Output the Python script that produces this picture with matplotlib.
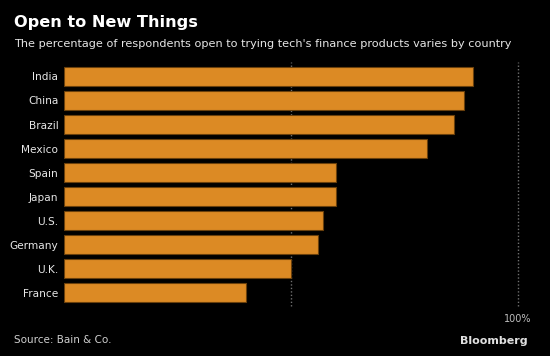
"""Open to New Things — Bloomberg-style horizontal bar chart."""

import matplotlib

matplotlib.use("Agg")
import matplotlib.pyplot as plt

countries = ["India", "China", "Brazil", "Mexico", "Spain", "Japan",
             "U.S.", "Germany", "U.K.", "France"]
pct_open = [90, 88, 86, 80, 60, 60, 57, 56, 50, 40]
grid_ticks = [50, 100]
tick_labels = ["", "100%"]

BG = "#000000"
BAR = "#dc8a24"
EDGE = "#6a400c"
TXT = "#e6e6e6"
GRID = "#707070"

fig = plt.figure(figsize=(5.5, 3.56), dpi=100, facecolor=BG)
ax = fig.add_axes([64 / 550, 1 - 306 / 356, 454 / 550, 244 / 356], facecolor=BG)

y = list(range(len(countries)))
ax.barh(y, pct_open, height=0.8, color=BAR, edgecolor=EDGE, linewidth=0.8, zorder=2)

for t in grid_ticks:
    ax.axvline(t, color=GRID, lw=1.0, ls=(0, (1, 1.5)), zorder=1, clip_on=False)

ax.set_xlim(0, 100)
ax.set_ylim(len(countries) - 0.45, -0.6)
ax.set_yticks(y)
ax.set_yticklabels(countries, color=TXT, fontsize=7.6)
ax.set_xticks(grid_ticks)
ax.set_xticklabels(tick_labels, color="#bdbdbd", fontsize=7)
ax.tick_params(axis="both", length=0)
ax.tick_params(axis="y", pad=4)
ax.tick_params(axis="x", pad=6)
for s in ax.spines.values():
    s.set_visible(False)

fig.text(14 / 550, 1 - 22 / 356, "Open to New Things", color="white",
         fontsize=11.6, fontweight="bold", va="center", ha="left")
fig.text(14 / 550, 1 - 44 / 356,
         "The percentage of respondents open to trying tech's finance products varies by country",
         color=TXT, fontsize=8.15, va="center", ha="left")
fig.text(14 / 550, 1 - 340 / 356, "Source: Bain & Co.", color="#cfcfcf",
         fontsize=7.5, va="center", ha="left")
fig.text(528 / 550, 1 - 341 / 356, "Bloomberg", color="#e0e0e0",
         fontsize=8, fontweight="bold", va="center", ha="right")

fig.savefig("out.png", dpi=100, facecolor=BG)
